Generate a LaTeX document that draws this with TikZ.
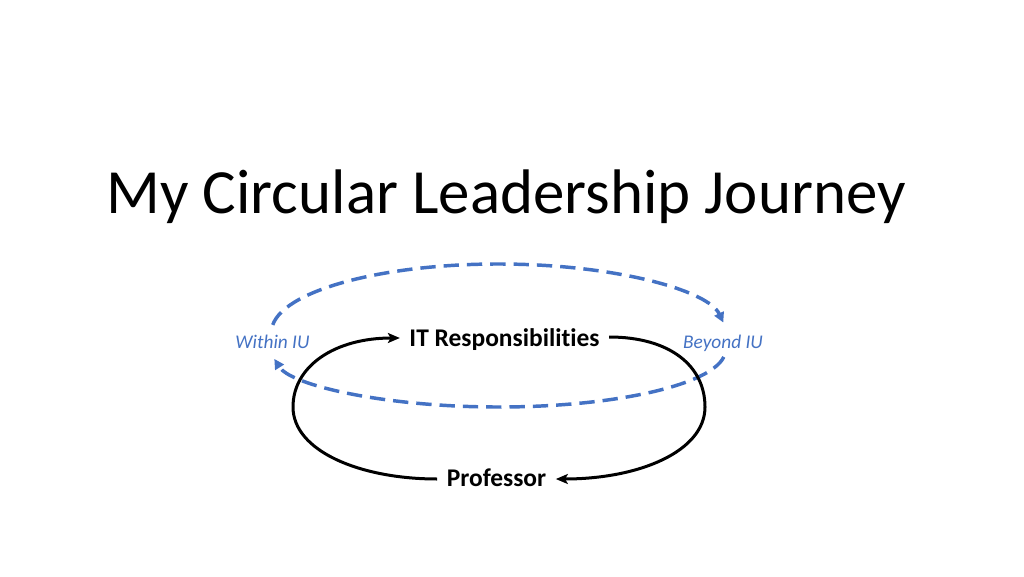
\documentclass[tikz,border=0pt]{standalone}
\usepackage{fontspec}
\setmainfont[Ligatures=NoCommon]{Carlito}
\usetikzlibrary{arrows.meta,calc}
\definecolor{accblue}{HTML}{4472C4}
\tikzset{
  lbl/.style={font=\bfseries\fontsize{19.1}{22}\selectfont, inner xsep=7pt, inner ysep=2pt},
  side/.style={font=\itshape\fontsize{14.5}{17}\selectfont, text=accblue, inner sep=1pt},
  blkarrow/.style={draw=black, line width=2.25pt, -{Stealth[length=9pt,width=7.5pt,inset=2pt]}},
  bluedash/.style={draw=accblue, line width=2.6pt, dash pattern=on 11.5pt off 6pt, -{Triangle[length=7.5pt,width=7.5pt]}}
}
\begin{document}
\begin{tikzpicture}[x=0.75pt,y=0.75pt]
\useasboundingbox (0,0) rectangle (1024,576);
\fill[white] (0,0) rectangle (1024,576);
\node[anchor=base, font=\fontsize{47.2}{57}\selectfont] (title) at (506,363) {My Circular Leadership Journey};
\node[lbl, anchor=base] (it) at (504.5,230) {IT Responsibilities};
\node[lbl, anchor=base] (prof) at (496.5,90) {Professor};
\node[side, anchor=base] (within) at (272.5,228) {Within IU};
\node[side, anchor=base] (beyond) at (723,228) {Beyond IU};
% dashed loop
\coordinate (topc) at (498.5,244);
\coordinate (botc) at (498.5,226);
\draw[bluedash] ($(topc)+(174:170.25pt and 51pt)$) arc[start angle=174, end angle=8, x radius=170.25pt, y radius=51pt];
\draw[bluedash] ($(botc)+(-7:170.25pt and 42.75pt)$) arc[start angle=-7, end angle=-171, x radius=170.25pt, y radius=42.75pt];
% black loop
\draw[blkarrow] ($(prof.base west)+(0,7)$) .. controls (360,97) and (293,125) .. (293,169)
   .. controls (293,210) and (335,238) .. ($(it.base west)+(0,8)$);
\draw[blkarrow] ($(it.base east)+(0,9)$) .. controls (670,239) and (705,210) .. (705,169)
   .. controls (705,125) and (640,97) .. ($(prof.base east)+(0,7)$);
\end{tikzpicture}
\end{document}
